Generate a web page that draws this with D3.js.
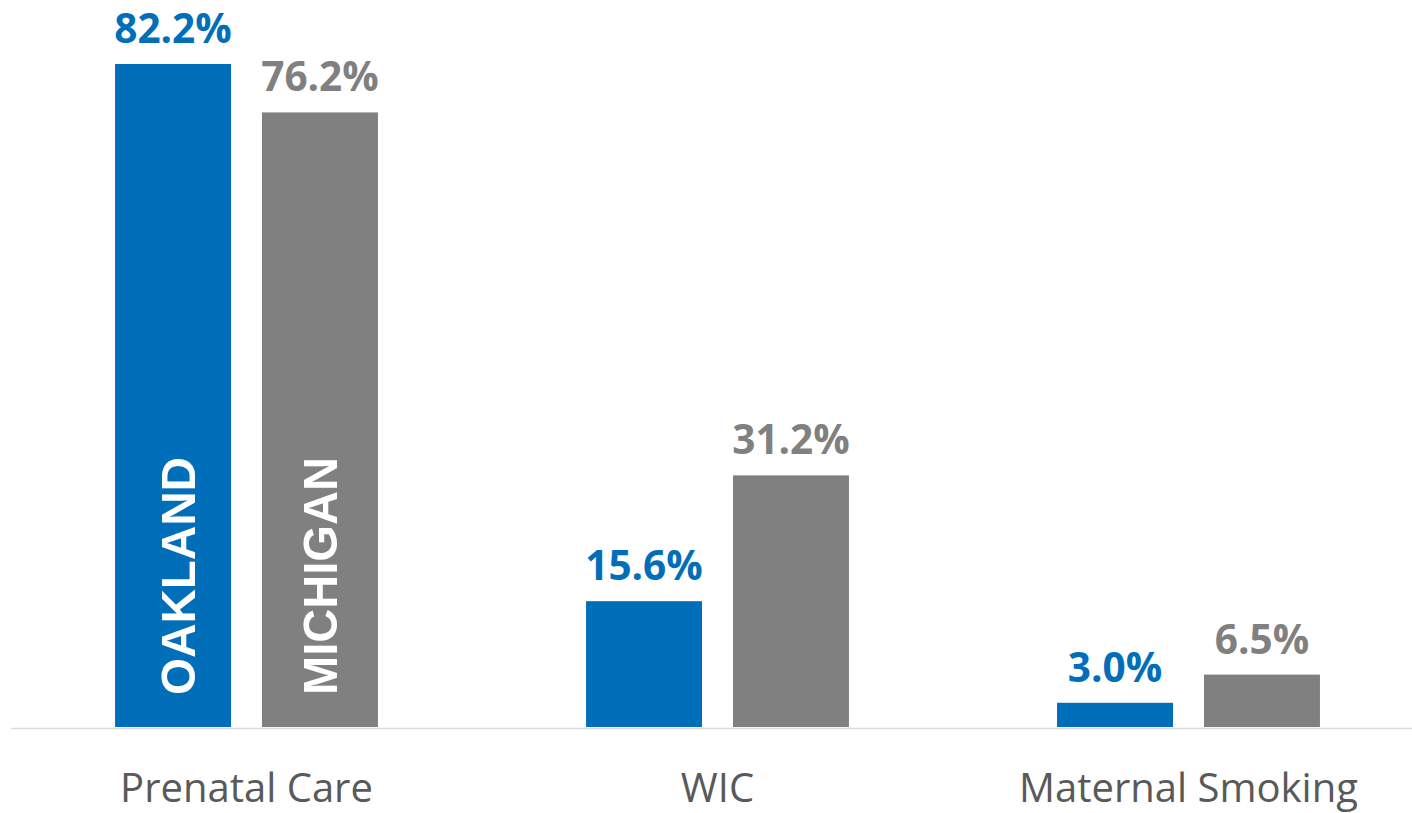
<!DOCTYPE html>
<html>
<head>
<meta charset="utf-8">
<script src="https://cdn.jsdelivr.net/npm/d3@7"></script>
<style>
  html, body { margin: 0; padding: 0; background: #fff; }
  svg { display: block; }
</style>
</head>
<body>
<svg id="chart" width="1412" height="813"></svg>
<script>
// ── Data ──────────────────────────────────────────────────────────────────────
const categories = ['Prenatal Care', 'WIC', 'Maternal Smoking'];
const seriesNames = ['OAKLAND', 'MICHIGAN'];
const oakland = [82.2, 15.6, 3.0];
const michigan = [76.2, 31.2, 6.5];
const colors = ['#006EB9', '#808080'];

const W = 1412, H = 813;
const svg = d3.select('#chart');

// ── Scales ────────────────────────────────────────────────────────────────────
const x = d3.scaleBand()
	.domain(categories)
	.range([11, 1424])
	.paddingInner(0)
	.paddingOuter(0);

const inner = d3.scaleBand()
	.domain(seriesNames)
	.range([0, x.bandwidth()])
	.paddingInner(0.211)
	.paddingOuter(0.708);

const y = d3.scaleLinear()
	.domain([0, 82.2])
	.range([727, 64]);

const rows = categories.map((c, i) => ({
	cat: c,
	vals: [
		{ series: seriesNames[0], v: oakland[i], k: 0 },
		{ series: seriesNames[1], v: michigan[i], k: 1 }
	]
}));

// ── Axis line ─────────────────────────────────────────────────────────────────
svg.append('line')
	.attr('x1', 11).attr('x2', W)
	.attr('y1', 728.5).attr('y2', 728.5)
	.attr('stroke', '#d9d9d9')
	.attr('stroke-width', 1.5);

// ── Bars ──────────────────────────────────────────────────────────────────────
const groups = svg.selectAll('.cat')
	.data(rows)
	.join('g')
	.attr('class', 'cat')
	.attr('transform', d => `translate(${x(d.cat)},0)`);

groups.selectAll('rect')
	.data(d => d.vals)
	.join('rect')
	.attr('x', d => inner(d.series))
	.attr('width', inner.bandwidth())
	.attr('y', d => y(d.v))
	.attr('height', d => y(0) - y(d.v))
	.attr('fill', d => colors[d.k]);

// value labels
groups.selectAll('.val')
	.data(d => d.vals)
	.join('text')
	.attr('class', 'val')
	.attr('x', d => inner(d.series) + inner.bandwidth() / 2)
	.attr('y', d => y(d.v) - 21)
	.attr('text-anchor', 'middle')
	.attr('fill', d => colors[d.k])
	.style('font-family', '"Open Sans", "Noto Sans", sans-serif')
	.style('font-weight', 700)
	.style('font-size', '40.5px')
	.text(d => d.v.toFixed(1) + '%');

// series names inside the first group's bars
const first = groups.filter((d, i) => i === 0);
first.selectAll('.series')
	.data(d => d.vals)
	.join('text')
	.attr('class', 'series')
	.attr('transform', d => `translate(${inner(d.series) + inner.bandwidth() / 2 + 17.5 + (d.k === 0 ? 4.5 : 0)},695) rotate(-90)`)
	.attr('fill', '#fff')
	.attr('textLength', 238)
	.attr('lengthAdjust', 'spacingAndGlyphs')
	.style('font-family', '"Liberation Sans", Arial, sans-serif')
	.style('font-weight', 700)
	.style('font-size', '49px')
	.text(d => d.series);

// ── Category labels ───────────────────────────────────────────────────────────
svg.selectAll('.catlabel')
	.data(categories)
	.join('text')
	.attr('class', 'catlabel')
	.attr('x', d => x(d) + x.bandwidth() / 2)
	.attr('y', 802)
	.attr('text-anchor', 'middle')
	.attr('fill', '#595959')
	.style('font-family', '"Open Sans", "Noto Sans", sans-serif')
	.style('font-size', '40px')
	.text(d => d);
</script>
</body>
</html>
